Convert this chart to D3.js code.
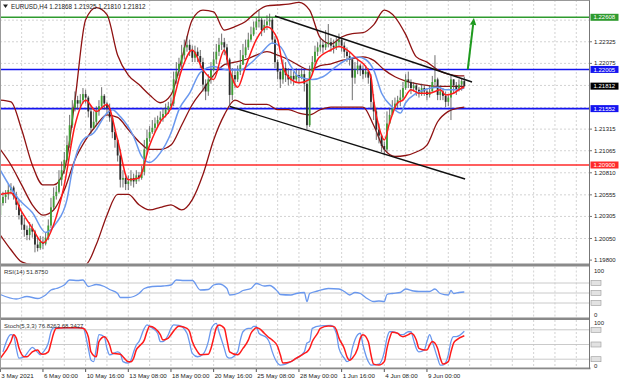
<!DOCTYPE html>
<html><head><meta charset="utf-8">
<script src="https://cdn.jsdelivr.net/npm/d3@7"></script>
<style>
body{margin:0;background:#fff}
svg{display:block}
text{font-family:"Liberation Sans",Arial,sans-serif}
</style></head>
<body><svg id="c" width="620" height="382"></svg>
<script>
// ---------------- DATA ----------------
const headerText = "EURUSD,H4 1.21868 1.21925 1.21810 1.21812";
// prices in pips above 1.20000
const firstOpen = 32;
const closes = [46,53,56,61,64,54,44,32,21,15,9,17,13,-2,-6,1,-1,6,20,41,
54,59,73,84,96,113,136,156,165,161,165,172,168,152,133,140,152,158,170,161,
156,145,128,119,101,73,75,68,71,75,71,78,75,82,108,121,128,133,138,142,
145,149,154,158,161,189,198,207,217,226,229,223,214,221,216,209,183,175,189,200,
212,221,229,232,226,212,171,194,189,198,206,217,226,235,241,249,256,258,246,252,
256,258,235,209,198,189,202,194,189,193,189,194,191,195,184,136,198,209,221,226,
229,226,230,232,228,226,232,235,228,221,216,212,191,200,205,200,195,198,191,163,
152,131,124,112,108,138,148,156,161,165,168,179,189,186,179,182,177,172,179,175,
171,175,186,189,171,175,170,163,168,189,182,177,183,187,181];
const highs = [52,59,61,68,69,66,59,50,36,29,20,24,22,15,6,8,7,12,27,52,
64,66,84,94,105,124,148,165,175,170,172,179,177,170,158,152,158,165,180,172,
163,161,147,131,121,108,84,80,78,84,80,84,82,89,119,131,135,142,145,147,
152,156,161,163,168,198,209,214,229,235,239,235,228,228,226,223,214,189,195,209,
221,230,237,242,237,230,214,202,200,205,223,230,235,243,250,256,261,269,260,258,
263,265,261,239,212,200,212,209,202,200,198,202,200,202,200,189,205,216,228,232,
237,235,246,253,237,235,239,242,237,232,226,221,214,209,212,207,205,205,202,195,
172,156,138,126,117,152,156,165,168,170,177,186,195,198,189,186,184,180,184,182,
179,182,193,217,191,182,179,175,172,193,189,186,189,190,192];
const lows = [29,43,46,50,56,50,38,27,15,7,3,3,6,-11,-10,-8,-7,-3,3,17,
38,50,57,66,80,94,110,133,152,154,156,161,161,145,126,131,135,147,156,154,
149,140,121,110,94,64,64,61,61,66,64,68,71,73,78,102,117,126,128,133,
138,140,145,149,154,158,184,193,200,212,221,216,209,209,209,202,175,165,170,184,
198,207,216,223,217,205,158,165,179,186,194,206,214,223,232,239,246,249,239,243,
246,251,230,202,189,179,184,186,182,184,182,186,184,189,175,131,134,195,205,216,
221,219,223,226,221,219,223,226,221,214,209,205,165,184,195,193,189,191,184,154,
142,119,115,105,101,105,138,149,154,156,158,165,177,179,172,175,170,168,170,170,
165,168,177,182,165,165,165,157,158,142,173,171,175,176,181];

// Bollinger band samples (bar index, pips above 1.20000)
const bbBars = [0,4,8,12,16,20,24,28,32,36,40,44,48,52,56,60,64,68,72,76,80,84,88,92,96,100,104,108,112,116,120,124,128,132,136,140,144,148,152,156,160,164,168,172,174];
const bbUpper = [165,163,131,90,67,67,84,165,258,272,264,217,194,183,171,162,171,212,258,269,267,246,250,256,267,274,275,276,278,269,237,230,238,242,243,252,269,261,241,215,209,200,195,193,193];
const bbMiddle = [108,90,67,44,32,38,61,96,119,136,148,145,131,117,108,108,113,136,160,177,194,206,209,212,217,221,217,212,205,200,205,207,211,213,215,211,200,192,187,184,182,181,181,181,181];
const bbLower = [9,-8,-22,-25,-25,-25,-25,-25,-25,-2,32,56,56,44,38,41,44,38,50,79,119,148,165,160,160,160,154,154,150,148,154,157,157,157,157,136,108,100,101,105,113,140,152,156,157];
// slow (blue) moving average samples
const slowBars = [0,7,12,17,21,25,27,31,35,40,42,45,50,53,56,60,64,67,71,75,80,85,90,94,98,102,105,109,112,117,121,126,130,134,137,140,143,147,150,152,156,160,164,167,171,174];
const slowVals = [84,50,35,12,23,50,84,119,127,150,154,146,123,100,93,104,127,154,173,197,204,200,200,208,220,231,227,204,192,189,192,204,212,215,212,200,173,157,150,162,173,178,180,177,177,179];
// fast (red) moving average samples
const fastBars = [0,4,8,12,16,20,24,28,32,36,40,44,48,52,56,60,64,68,72,76,80,84,86,89,92,96,100,104,106,109,112,116,119,124,127,130,134,137,139,140,142,144,146,149,151,154,157,161,165,167,170,173,174];
const fastVals = [56,58,36,17,0,21,67,136,165,152,160,119,73,75,113,140,156,200,223,200,189,223,200,180,204,235,250,235,204,189,185,189,212,223,227,223,212,204,192,165,134,119,139,162,165,177,173,173,177,171,173,179,180];

// horizontal levels and price-axis ticks
const levelPrices = [1.22608, 1.22005, 1.21552, 1.20900];
const lastPrice = 1.21812;
const priceTicks = [1.22325, 1.22075, 1.21315, 1.21065, 1.20810, 1.20555, 1.20305, 1.20050, 1.19800];
const gridPrices = [1.22575, 1.22325, 1.22075, 1.21820, 1.21565, 1.21315, 1.21065, 1.20810, 1.20555, 1.20305, 1.20050];

// channel lines [bar, price]
const upperChannel = [[103, 1.22623], [176.9, 1.21860]];
const lowerChannel = [[86.1, 1.21577], [174.3, 1.20738]];
const arrowPts = [[175.3, 1.22005], [177.6, 1.22600]];

// time axis
const timeLabels = ["3 May 2021","6 May 00:00","10 May 16:00","13 May 08:00","18 May 00:00","20 May 16:00","25 May 08:00","28 May 00:00","1 Jun 16:00","4 Jun 08:00","9 Jun 00:00"];
const timeLabelBars = [0,16,32,48,64,80,96,112,128,144,160];

// RSI(14)
const rsiLabel = "RSI(14) 51.8750";
const rsiBars = [0,6,10,14,17,19,21,24,26,29,31,33,36,39,41,44,45,48,50,52,54,57,61,64,66,69,72,75,78,80,82,85,86,89,91,94,96,99,101,104,105,109,111,114,115,116,119,123,127,129,131,133,135,137,140,142,144,145,147,150,152,155,157,161,163,165,168,169,170,172,174];
const rsiVals = [47,38,43,39,46,56,59,66,76,75,76,63,67,63,57,49,41,41,43,49,59,63,64,66,76,75,75,56,57,66,68,59,46,49,55,59,69,64,65,53,47,46,49,51,33,49,54,59,58,53,46,51,49,41,33,34,33,47,49,51,58,54,53,53,58,49,46,55,49,51,52];
const rsiLevels = [70,50,30];

// Stochastic(5,3,3)
const stochLabel = "Stoch(5,3,3) 76.8263 68.3427";
const kBars = [1,4,5,6,7,9,11,12,14,15,16,18,19,20,31,33,34,35,36,37,39,40,41,44,45,46,48,49,50,51,52,54,55,56,59,60,61,63,64,65,67,70,71,72,74,76,78,79,80,81,82,84,85,86,89,90,91,93,94,95,96,97,100,101,102,104,105,109,111,114,115,116,117,120,124,126,127,129,130,131,132,134,135,136,138,139,142,144,145,146,147,149,150,151,153,154,155,156,157,159,160,161,162,164,165,166,168,169,170,171,174];
const kVals = [35,70,68,42,22,25,39,44,34,29,34,53,76,84,84,42,18,15,42,70,66,42,29,35,32,15,12,18,35,49,56,83,90,87,73,56,56,70,83,90,89,73,53,32,25,30,56,80,90,93,76,42,25,22,35,59,76,83,83,87,87,73,63,53,35,12,8,15,22,35,53,56,83,88,89,73,42,22,15,18,42,70,73,49,15,8,10,35,63,76,76,73,70,70,76,76,59,42,35,39,56,70,56,22,8,8,29,56,66,66,77];
const dBars = [0,4,5,6,7,9,10,12,14,15,16,18,19,20,21,24,29,31,33,34,36,37,39,41,42,45,46,48,49,50,51,52,54,55,56,58,60,61,63,64,66,67,70,71,72,74,75,78,79,80,81,82,84,85,86,89,91,93,94,95,96,97,99,101,102,104,105,106,109,111,112,114,115,116,117,119,120,123,125,126,127,129,130,131,132,134,135,136,138,139,140,142,144,145,146,147,149,150,151,153,154,155,156,157,159,160,161,162,164,165,166,168,169,170,171,174];
const dVals = [22,56,70,63,43,25,25,35,39,32,30,35,53,73,83,84,84,83,66,35,25,56,66,49,32,30,25,15,15,22,39,46,59,76,87,83,70,59,63,70,84,87,83,76,56,35,29,30,42,63,84,90,83,59,35,29,42,59,73,80,84,83,73,63,59,46,29,12,15,22,25,32,35,42,56,73,83,88,87,80,63,42,25,18,22,42,63,70,56,29,10,8,15,42,63,75,73,68,66,70,73,70,59,42,39,39,49,56,42,22,10,15,35,53,59,68];
const stochLevels = [80,50,20];

// ---------------- DRAWING ----------------
const svg = d3.select("#c");
const P = v => 1.2 + v / 10000;
const AX = 589.5;                    // right price axis x
const MAIN = [0, 263.5], RSI = [266.5, 317.5], STO = [320, 368];

const x = d3.scaleLinear().domain([0, 174]).range([0.3, 464.3]);
const y = d3.scaleLinear().domain([1.20900, 1.22608]).range([165, 17.3]);
const yR = d3.scaleLinear().domain([0, 100]).range([318, 268]);
const yS = d3.scaleLinear().domain([0, 100]).range([369, 320]);

svg.append("rect").attr("width", 620).attr("height", 382).attr("fill", "#fff");

const defs = svg.append("defs");
defs.append("clipPath").attr("id", "cm").append("rect").attr("x", 0).attr("y", MAIN[0]).attr("width", AX).attr("height", MAIN[1] - MAIN[0]);
defs.append("clipPath").attr("id", "cr").append("rect").attr("x", 0).attr("y", RSI[0]).attr("width", AX).attr("height", RSI[1] - RSI[0]);
defs.append("clipPath").attr("id", "cs").append("rect").attr("x", 0).attr("y", STO[0]).attr("width", AX).attr("height", STO[1] - STO[0]);

const gM = svg.append("g").attr("clip-path", "url(#cm)");
const gR = svg.append("g").attr("clip-path", "url(#cr)");
const gS = svg.append("g").attr("clip-path", "url(#cs)");

// vertical grid (every 8 bars)
const gridBars = d3.range(0, 220, 8).filter(b => x(b) < AX - 2);
[[gM, MAIN], [gR, RSI], [gS, STO]].forEach(([g, r]) => {
  g.selectAll(null).data(gridBars).join("line")
    .attr("x1", d => x(d)).attr("x2", d => x(d)).attr("y1", r[0]).attr("y2", r[1])
    .attr("stroke", "#c8c8c8").attr("stroke-width", 0.8).attr("stroke-dasharray", "2,2");
});
// horizontal grid
gM.selectAll(null).data(gridPrices).join("line")
  .attr("x1", 0).attr("x2", AX).attr("y1", d => y(d)).attr("y2", d => y(d))
  .attr("stroke", "#c8c8c8").attr("stroke-width", 0.8).attr("stroke-dasharray", "2,2");

// horizontal levels
const levelColors = ["#2f9b2f", "#1414f0", "#1414f0", "#ff2a2a"];
gM.selectAll(null).data(levelPrices).join("line")
  .attr("x1", 0).attr("x2", AX).attr("y1", d => y(d)).attr("y2", d => y(d))
  .attr("stroke", (d, i) => levelColors[i]).attr("stroke-width", 1.6);

// Bollinger bands
const pts = (bars, vals) => bars.map((b, i) => [b, vals[i]]);
const lineP = d3.line().x(d => x(d[0])).y(d => y(P(d[1]))).curve(d3.curveMonotoneX);
[bbUpper, bbMiddle, bbLower].forEach(a => {
  gM.append("path").attr("d", lineP(pts(bbBars, a))).attr("fill", "none").attr("stroke", "#8f1212").attr("stroke-width", 1.3);
});

// candles
const candles = closes.map((c, i) => {
  const o = i === 0 ? firstOpen : closes[i - 1];
  return {i, o, c, h: Math.max(highs[i], o, c), l: Math.min(lows[i], o, c)};
});
gM.selectAll(null).data(candles).join("line")
  .attr("x1", d => x(d.i)).attr("x2", d => x(d.i))
  .attr("y1", d => y(P(d.h))).attr("y2", d => y(P(d.l)))
  .attr("stroke", "#4a4a4a").attr("stroke-width", 0.8);
gM.selectAll(null).data(candles).join("rect")
  .attr("x", d => x(d.i) - 0.9).attr("width", 1.8)
  .attr("y", d => y(P(Math.max(d.o, d.c))))
  .attr("height", d => Math.max(0.8, Math.abs(y(P(d.o)) - y(P(d.c)))))
  .attr("fill", d => d.c >= d.o ? "#3f9e34" : "#2a2a2a");

// moving averages
gM.append("path").attr("d", lineP(pts(slowBars, slowVals))).attr("fill", "none").attr("stroke", "#6a98ee").attr("stroke-width", 1.5);
gM.append("path").attr("d", lineP(pts(fastBars, fastVals))).attr("fill", "none").attr("stroke", "#ff1a1a").attr("stroke-width", 1.5);

// channel lines
[upperChannel, lowerChannel].forEach(l => {
  gM.append("line").attr("x1", x(l[0][0])).attr("y1", y(l[0][1])).attr("x2", x(l[1][0])).attr("y2", y(l[1][1]))
    .attr("stroke", "#111").attr("stroke-width", 1.4);
});
// green arrow
{
  const x1 = x(arrowPts[0][0]), y1 = y(arrowPts[0][1]), x2 = x(arrowPts[1][0]), y2 = y(arrowPts[1][1]);
  const ang = Math.atan2(y2 - y1, x2 - x1);
  const hl = 7, hw = 3.2;
  const bx = x2 - hl * Math.cos(ang), by = y2 - hl * Math.sin(ang);
  gM.append("line").attr("x1", x1).attr("y1", y1).attr("x2", bx).attr("y2", by).attr("stroke", "#1e9a1e").attr("stroke-width", 2);
  const px = -Math.sin(ang), py = Math.cos(ang);
  gM.append("path").attr("d", `M${x2},${y2}L${bx + px * hw},${by + py * hw}L${bx - px * hw},${by - py * hw}Z`).attr("fill", "#1e9a1e");
}

// header
svg.append("path").attr("d", "M3,4.5L8,4.5L5.5,8Z").attr("fill", "#222");
svg.append("text").attr("x", 11).attr("y", 9).attr("font-size", 6.3).attr("fill", "#222").text(headerText);

// RSI panel
gR.selectAll(null).data(rsiLevels).join("line")
  .attr("x1", 0).attr("x2", AX).attr("y1", d => yR(d)).attr("y2", d => yR(d))
  .attr("stroke", "#c4c4c4").attr("stroke-width", 0.9);
const lineR = d3.line().x(d => x(d[0])).y(d => yR(d[1])).curve(d3.curveMonotoneX);
gR.append("path").attr("d", lineR(pts(rsiBars, rsiVals))).attr("fill", "none").attr("stroke", "#6a98ee").attr("stroke-width", 1.3);
svg.append("text").attr("x", 4).attr("y", 274).attr("font-size", 6).attr("fill", "#333").text(rsiLabel);

// Stoch panel
gS.selectAll(null).data(stochLevels).join("line")
  .attr("x1", 0).attr("x2", AX).attr("y1", d => yS(d)).attr("y2", d => yS(d))
  .attr("stroke", "#c4c4c4").attr("stroke-width", 0.9);
const lineS = d3.line().x(d => x(d[0])).y(d => yS(d[1])).curve(d3.curveMonotoneX);
gS.append("path").attr("d", lineS(pts(kBars, kVals))).attr("fill", "none").attr("stroke", "#6a98ee").attr("stroke-width", 1.3);
gS.append("path").attr("d", lineS(pts(dBars, dVals))).attr("fill", "none").attr("stroke", "#ff1a1a").attr("stroke-width", 1.5);
svg.append("text").attr("x", 4).attr("y", 328).attr("font-size", 6).attr("fill", "#333").text(stochLabel);

// separators and frame
svg.append("rect").attr("x", 0).attr("y", 263.5).attr("width", AX).attr("height", 3).attr("fill", "#8a8a8a");
svg.append("rect").attr("x", 0).attr("y", 317.5).attr("width", AX).attr("height", 2.5).attr("fill", "#8a8a8a");
svg.append("rect").attr("x", 0).attr("y", 367.5).attr("width", AX + 1).attr("height", 1.8).attr("fill", "#8a8a8a");
svg.append("line").attr("x1", AX).attr("x2", AX).attr("y1", 0).attr("y2", 369).attr("stroke", "#777").attr("stroke-width", 1);
svg.append("line").attr("x1", 0).attr("x2", AX).attr("y1", 0.5).attr("y2", 0.5).attr("stroke", "#999").attr("stroke-width", 1);
svg.append("line").attr("x1", 0.5).attr("x2", 0.5).attr("y1", 0).attr("y2", 369).attr("stroke", "#999").attr("stroke-width", 1);

// price axis labels
const fmt = d3.format(".5f");
svg.selectAll(null).data(priceTicks).join("text")
  .attr("x", 594).attr("y", d => y(d) + 2).attr("font-size", 6).attr("fill", "#222").text(d => fmt(d));
svg.selectAll(null).data(priceTicks).join("line")
  .attr("x1", AX).attr("x2", AX + 2.5).attr("y1", d => y(d)).attr("y2", d => y(d)).attr("stroke", "#777");
const boxPrices = levelPrices.concat([lastPrice]);
const boxColors = ["#2f9b2f", "#1414f0", "#1414f0", "#ff2a2a", "#000"];
boxPrices.forEach((p, i) => {
  svg.append("rect").attr("x", AX + 1).attr("y", y(p) - 3.5).attr("width", 28).attr("height", 7).attr("fill", boxColors[i]);
  svg.append("text").attr("x", AX + 4).attr("y", y(p) + 2.1).attr("font-size", 6).attr("fill", "#fff").text(fmt(p));
});

// sub-panel axis labels
[[yR, rsiLevels], [yS, stochLevels]].forEach(([sc, lv]) => {
  svg.append("text").attr("x", 594).attr("y", sc(100) + 4.5).attr("font-size", 6).attr("fill", "#222").text("100");
  svg.append("text").attr("x", 594).attr("y", sc(0) - 1.5).attr("font-size", 6).attr("fill", "#222").text("0");
  lv.forEach(v => {
    svg.append("rect").attr("x", 591).attr("y", sc(v) - 2.5).attr("width", 10).attr("height", 5)
      .attr("fill", "#e2e2e2").attr("stroke", "#9a9a9a").attr("stroke-width", 0.6);
  });
});

// time axis
timeLabelBars.forEach((b, i) => {
  svg.append("line").attr("x1", x(b)).attr("x2", x(b)).attr("y1", 369).attr("y2", 372).attr("stroke", "#555");
  svg.append("text").attr("x", x(b) + 1).attr("y", 378).attr("font-size", 6.2).attr("fill", "#222").text(timeLabels[i]);
});
</script>
</body></html>
